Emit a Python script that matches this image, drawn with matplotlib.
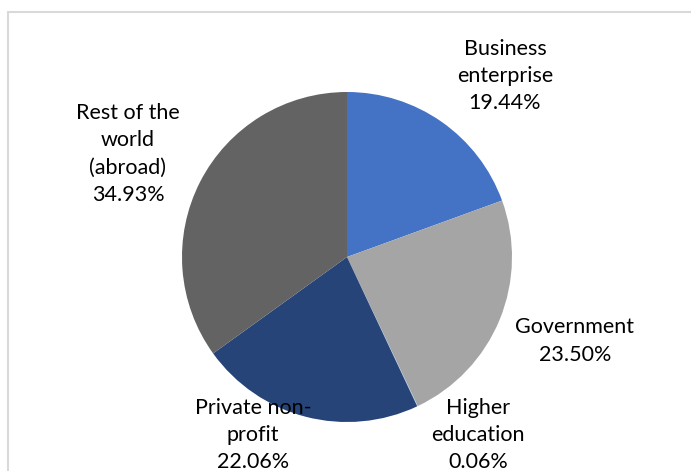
import matplotlib
matplotlib.use('Agg')
import matplotlib.pyplot as plt
from matplotlib.patches import Rectangle

# Data
categories = ['Business\nenterprise', 'Government', 'Higher\neducation',
              'Private non-\nprofit', 'Rest of the\nworld\n(abroad)']
shares = [19.44, 23.50, 0.06, 22.06, 34.93]
colors = ['#4472C4', '#A5A5A5', '#9DC3E6', '#264478', '#636363']

W, H = 691, 471
fig = plt.figure(figsize=(W / 100, H / 100), dpi=100)
ax = fig.add_axes([0, 0, 1, 1])

# chart border (cut off at right/bottom like the source)
ax.add_patch(Rectangle((8, -20), 720, H - 12 + 20, fill=False,
                       edgecolor='#D9D9D9', linewidth=1.5))

cx, cy, r = 347, H - 257, 165
ax.pie(shares, colors=colors, startangle=90, counterclock=False,
       center=(cx, cy), radius=r, frame=True,
       wedgeprops=dict(linewidth=0))
ax.set_xlim(0, W)
ax.set_ylim(0, H)
ax.set_aspect('equal')
ax.axis('off')

# label positions (pixel coords, y from top)
label_pos = [(505, 76), (575, 341), (478, 435), (253, 435), (128, 154)]
for name, val, (lx, ly) in zip(categories, shares, label_pos):
    ax.text(lx, H - ly, f'{name}\n{val:.2f}%', ha='center', va='center',
            fontsize=15.5, family='Lato', color='#000000', linespacing=1.45)

plt.savefig('out.png', dpi=100)
